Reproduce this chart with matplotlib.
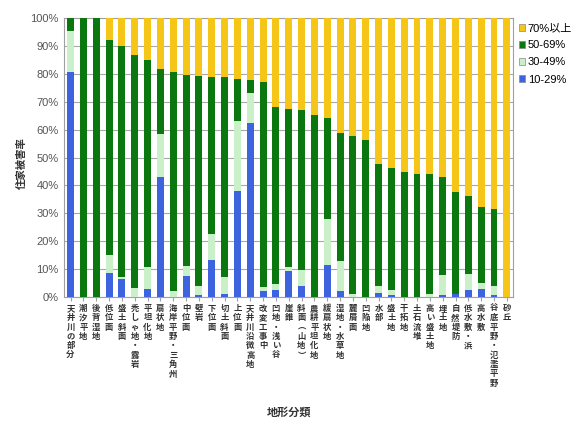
import numpy as np
import matplotlib
matplotlib.use('Agg')
from matplotlib import pyplot as plt

plt.rcParams['font.family'] = ['Liberation Sans', 'Noto Sans CJK JP']

# 地形分類
categories = ['天井川の部分', '潮汐平地', '後背湿地', '低位面', '盛土斜面', '禿しゃ地・露岩',
              '平坦化地', '扇状地', '海岸平野・三角州', '中位面', '壁岩', '下位面', '切土斜面',
              '上位面', '天井川沿微高地', '改変工事中', '凹地・浅い谷', '崖錐', '斜面（山地）',
              '農耕平坦化地', '緩扇状地', '湿地・水草地', '麓屑面', '凹陥地', '水部', '盛土地',
              '干拓地', '土石流堆', '高い盛土地', '埋土地', '自然堤防', '低水敷・浜', '高水敷',
              '谷底平野・氾濫平野', '砂丘']

# cumulative tops (%)
top_10_29 = [80.5, 0, 0, 8.6, 6.6, 0, 3.0, 42.9, 0, 7.4, 0.8, 13.1, 1.0,
             38.1, 62.4, 2.0, 2.4, 9.2, 3.8, 0, 11.6, 2.0, 0, 0, 1.3, 0.8,
             0, 0, 0, 0.8, 1.0, 2.4, 3.0, 0.8, 0]
top_30_49 = [95.5, 0, 0, 14.9, 7.0, 3.2, 10.6, 58.4, 2.0, 11.2, 3.8, 22.6, 7.0,
             63.2, 73.1, 3.5, 4.7, 10.6, 9.6, 0, 28.0, 13.0, 1.0, 0, 3.8, 2.6,
             0, 0, 1.0, 7.8, 1.0, 8.2, 5.0, 3.8, 0]
top_50_69 = [100, 100, 100, 92.2, 89.8, 86.9, 84.8, 81.7, 80.5, 79.5, 79.3, 78.7, 78.7,
             78.1, 77.7, 76.9, 68.0, 67.5, 67.1, 65.4, 64.2, 58.8, 57.6, 56.4, 47.7, 46.2,
             44.7, 44.1, 44.1, 42.9, 37.5, 36.1, 32.1, 31.5, 0]

series_names = ['10-29%', '30-49%', '50-69%', '70%以上']
colors = ['#3d63df', '#c9f0c9', '#0b770f', '#f5c518']

t1 = np.array(top_10_29)
t2 = np.array(top_30_49)
t3 = np.array(top_50_69)
vals = [t1, t2 - t1, t3 - t2, 100 - t3]

fig = plt.figure(figsize=(5.78, 4.28), dpi=100)
ax = fig.add_axes([0.111, 0.306, 0.777, 0.652])

x = np.arange(len(categories))
bottom = np.zeros(len(categories))
handles = []
for v, c, n in zip(vals, colors, series_names):
    h = ax.bar(x, v, 0.54, bottom=bottom, color=c, label=n, zorder=3, linewidth=0)
    handles.append(h)
    bottom += v

ax.set_xlim(-0.5, len(categories) - 0.5)
ax.set_ylim(0, 100)
ax.set_yticks(np.arange(0, 101, 10))
ax.set_yticklabels(['%d%%' % t for t in range(0, 101, 10)], fontsize=8, color='#555555')
ax.yaxis.grid(True, color='#a8a8a8', linewidth=0.8, zorder=0)
for s in ax.spines.values():
    s.set_color('#a0a0a0')
ax.tick_params(axis='y', length=0, pad=4)

def vert(s):
    s = s.replace('（', '︵').replace('）', '︶')
    return '\n'.join(s)

ax.set_xticks(x)
ax.set_xticklabels([vert(c) for c in categories], fontsize=6, fontweight='bold',
                   color='#333333', va='top', linespacing=1.05,
                   family=['Noto Sans CJK JP'])
ax.tick_params(axis='x', length=3, color='#a0a0a0', pad=2)

fig.text(0.038, 0.62, '住家被害率', rotation=90, ha='center', va='center',
         fontsize=7.5, fontweight='bold', color='#333333', family=['Noto Sans CJK JP'])
fig.text(0.50, 0.037, '地形分類', ha='center', va='center',
         fontsize=8, fontweight='bold', color='#333333', family=['Noto Sans CJK JP'])

leg = ax.legend(handles[::-1], series_names[::-1], loc='upper left', bbox_to_anchor=(0.995, 1.01),
                frameon=False, fontsize=8, handlelength=0.6, handleheight=0.6,
                handletextpad=0.2, labelspacing=0.65, borderaxespad=0.3)
for p in leg.get_patches():
    p.set_edgecolor('#888888')
    p.set_linewidth(0.5)

plt.savefig('out.png', dpi=100)
